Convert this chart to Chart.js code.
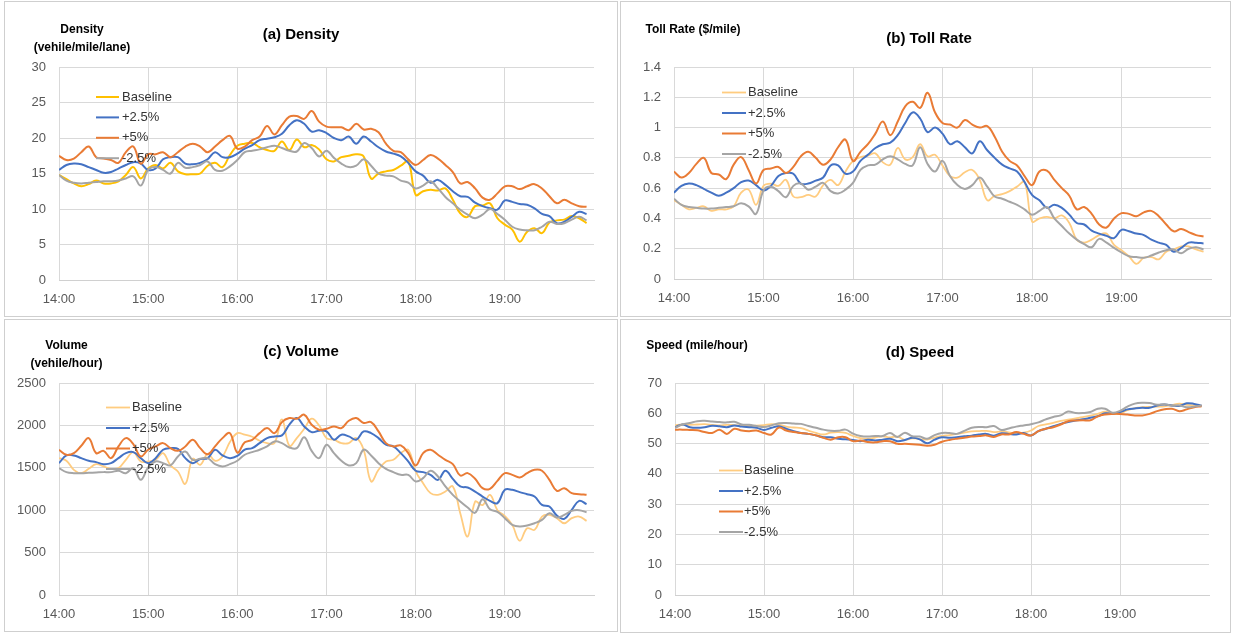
<!DOCTYPE html>
<html>
<head>
<meta charset="utf-8">
<script src="https://cdn.jsdelivr.net/npm/chart.js@4"></script>
<style>
  body { margin: 0; background: #fff; width: 1233px; height: 634px; position: relative; overflow: hidden; }
  .panel { position: absolute; border: 1px solid #cfcfcf; background: #fff; }
  canvas { display: block; }
</style>
</head>
<body>
<div class="panel" style="left:4px;top:1px;"><canvas id="chartA" width="612" height="314"></canvas></div>
<div class="panel" style="left:620px;top:1px;"><canvas id="chartB" width="609" height="314"></canvas></div>
<div class="panel" style="left:4px;top:319px;"><canvas id="chartC" width="612" height="311"></canvas></div>
<div class="panel" style="left:620px;top:319px;"><canvas id="chartD" width="609" height="312"></canvas></div>
<script>
// time of day, 5 minute steps
const times = [
  "14:00","14:05","14:10","14:15","14:20","14:25","14:30","14:35","14:40","14:45","14:50","14:55",
  "15:00","15:05","15:10","15:15","15:20","15:25","15:30","15:35","15:40","15:45","15:50","15:55",
  "16:00","16:05","16:10","16:15","16:20","16:25","16:30","16:35","16:40","16:45","16:50","16:55",
  "17:00","17:05","17:10","17:15","17:20","17:25","17:30","17:35","17:40","17:45","17:50","17:55",
  "18:00","18:05","18:10","18:15","18:20","18:25","18:30","18:35","18:40","18:45","18:50","18:55",
  "19:00","19:05","19:10","19:15","19:20","19:25","19:30","19:35","19:40","19:45","19:50","19:55"
];
const hourTicks = ["14:00", "15:00", "16:00", "17:00", "18:00", "19:00"];
const seriesNames = ["Baseline", "+2.5%", "+5%", "-2.5%"];

// (a) Density
const densBase = [
  14.8, 14.2, 13.6, 13.2, 13.5, 14.0, 13.6, 13.6, 13.9, 14.8, 15.9, 14.3,
  15.7, 16.2, 15.7, 16.5, 15.3, 14.9, 14.9, 15.0, 16.1, 16.5, 15.9, 17.6,
  18.9, 19.2, 19.3, 18.7, 18.3, 18.2, 19.5, 18.3, 19.8, 18.7, 19.0, 18.4,
  17.0, 16.7, 17.3, 17.5, 17.7, 17.4, 14.3, 15.0, 15.3, 15.5, 16.1, 16.7,
  12.0, 12.5, 12.7, 12.6, 12.9, 11.3, 9.4, 8.9, 10.4, 10.5, 10.8, 8.7,
  7.8, 7.1, 5.4, 6.8, 7.3, 6.6, 8.1, 8.4, 8.5, 9.0, 8.7, 8.0
];
const densP25 = [
  15.5, 16.2, 16.4, 16.3, 15.9, 15.5, 15.1, 15.2, 15.7, 16.2, 16.6, 16.4,
  15.5, 15.7, 17.0, 17.3, 17.3, 16.4, 16.3, 16.5, 17.0, 18.0, 17.3, 17.3,
  17.8, 18.5, 19.0, 19.7, 19.9, 20.1, 20.6, 21.8, 22.5, 22.0, 20.9, 21.1,
  20.7, 20.0, 19.7, 20.2, 19.2, 20.2, 19.5, 18.7, 18.1, 17.8, 17.4, 16.5,
  15.3, 14.7, 13.7, 14.1, 13.4, 12.5, 11.8, 11.7, 10.9, 10.4, 10.1, 9.9,
  11.2, 11.0, 10.7, 10.6, 10.1, 9.3, 9.0, 8.0, 8.2, 8.9, 9.6, 9.3
];
const densP5 = [
  17.5, 16.9, 17.1, 18.0, 18.8, 17.3, 17.1, 16.9, 16.5, 18.0, 18.8, 16.4,
  17.7, 17.7, 18.0, 17.3, 18.0, 18.8, 19.2, 18.8, 18.0, 18.8, 19.7, 20.3,
  18.5, 18.8, 19.7, 20.2, 21.7, 20.5, 21.8, 23.0, 23.1, 22.7, 23.8, 22.3,
  21.6, 21.5, 21.5, 21.1, 22.0, 21.2, 21.3, 20.8, 19.2, 18.2, 18.0, 17.0,
  16.2, 16.9, 17.6, 17.1, 16.2, 15.2, 13.6, 13.8, 12.9, 11.6, 11.3, 12.2,
  13.2, 13.2, 12.8, 13.2, 13.5, 12.9, 11.8, 10.8, 11.3, 10.8, 10.4, 10.3
];
const densM25 = [
  14.8, 14.0, 13.7, 13.6, 13.7, 13.8, 13.9, 13.9, 14.0, 14.3, 14.6, 13.3,
  15.5, 15.9, 15.5, 15.0, 16.5, 15.8, 15.9, 16.2, 16.7, 15.5, 15.4, 16.0,
  16.9, 18.0, 18.2, 18.4, 18.7, 18.9, 18.6, 18.2, 18.1, 19.3, 18.6, 17.4,
  18.2, 17.2, 16.4, 15.9, 16.1, 17.0, 16.1, 15.0, 14.7, 14.6, 14.0, 13.7,
  12.9, 13.3, 13.9, 12.9, 11.7, 10.8, 9.9, 9.2, 8.7, 9.2, 10.0, 9.3,
  8.5, 7.5, 7.1, 7.0, 7.0, 7.5, 8.2, 7.9, 8.0, 8.5, 8.9, 8.4
];

// (b) Toll Rate
const tollBase = [
  0.52, 0.49, 0.46, 0.47, 0.48, 0.45, 0.46, 0.46, 0.48, 0.57, 0.59, 0.49,
  0.615, 0.63, 0.615, 0.655, 0.545, 0.54, 0.555, 0.545, 0.62, 0.655, 0.62, 0.71,
  0.78, 0.805, 0.815, 0.83, 0.77, 0.755, 0.865, 0.79, 0.805, 0.89, 0.81, 0.82,
  0.75, 0.68, 0.67, 0.705, 0.72, 0.655, 0.52, 0.55, 0.56, 0.58, 0.61, 0.64,
  0.38, 0.40, 0.41, 0.40, 0.42, 0.37, 0.26, 0.24, 0.26, 0.29, 0.30, 0.225,
  0.19, 0.15, 0.10, 0.14, 0.145, 0.13, 0.18, 0.195, 0.215, 0.215, 0.195, 0.18
];
const tollP25 = [
  0.57, 0.615, 0.63, 0.62, 0.595, 0.57, 0.55, 0.57, 0.60, 0.64, 0.65, 0.62,
  0.585, 0.615, 0.68, 0.70, 0.695, 0.63, 0.63, 0.65, 0.67, 0.75, 0.75, 0.695,
  0.71, 0.78, 0.82, 0.865, 0.89, 0.90, 0.95, 1.03, 1.10, 1.06, 0.97, 1.00,
  0.96, 0.89, 0.91, 0.87, 0.83, 0.91, 0.85, 0.80, 0.755, 0.73, 0.71, 0.64,
  0.555, 0.52, 0.47, 0.49, 0.47, 0.425, 0.37, 0.36, 0.32, 0.30, 0.285, 0.27,
  0.325, 0.315, 0.30, 0.29, 0.26, 0.24, 0.225, 0.18, 0.205, 0.24, 0.24, 0.235
];
const tollP5 = [
  0.71, 0.67, 0.70, 0.76, 0.80, 0.70, 0.69, 0.66, 0.755, 0.805, 0.72, 0.63,
  0.72, 0.73, 0.74, 0.70, 0.74, 0.81, 0.84, 0.80, 0.755, 0.79, 0.87, 0.92,
  0.78, 0.84, 0.89, 0.96, 1.04, 0.95, 1.04, 1.14, 1.17, 1.13, 1.23, 1.10,
  1.03, 1.02, 1.00, 1.05, 1.02, 1.00, 1.01, 0.94, 0.84, 0.78, 0.75, 0.68,
  0.62, 0.71, 0.715, 0.655, 0.60, 0.55, 0.46, 0.475, 0.43, 0.36, 0.34, 0.40,
  0.435, 0.43, 0.415, 0.44, 0.45, 0.415, 0.36, 0.315, 0.33, 0.31, 0.29, 0.28
];
const tollM25 = [
  0.53, 0.49, 0.475, 0.47, 0.465, 0.465, 0.47, 0.475, 0.48, 0.50, 0.48, 0.43,
  0.585, 0.61, 0.58, 0.54, 0.615, 0.63, 0.59, 0.61, 0.635, 0.58, 0.565, 0.59,
  0.635, 0.72, 0.75, 0.755, 0.79, 0.81, 0.79, 0.76, 0.75, 0.87, 0.76, 0.71,
  0.78, 0.68, 0.62, 0.595, 0.62, 0.67, 0.61, 0.545, 0.53, 0.51, 0.49, 0.46,
  0.425, 0.45, 0.475, 0.40, 0.35, 0.30, 0.26, 0.23, 0.21, 0.265, 0.24, 0.205,
  0.175, 0.15, 0.145, 0.14, 0.155, 0.175, 0.19, 0.195, 0.17, 0.20, 0.21, 0.195
];

// (c) Volume
const volBase = [
  1614, 1583, 1476, 1437, 1488, 1543, 1516, 1488, 1496, 1594, 1685, 1575,
  1575, 1594, 1673, 1528, 1457, 1310, 1606, 1535, 1661, 1583, 1634, 1803,
  1909, 1890, 1866, 1819, 1791, 1791, 2070, 1760, 1850, 1960, 2080, 2000,
  1850, 1831, 1791, 1791, 1850, 1713, 1340, 1476, 1575, 1594, 1673, 1713,
  1457, 1319, 1201, 1181, 1220, 1280, 965, 690, 1100, 1060, 1180, 1000,
  930, 827, 640, 787, 768, 925, 945, 906, 846, 906, 925, 874
];
const volP25 = [
  1555, 1646, 1646, 1614, 1583, 1567, 1543, 1555, 1614, 1673, 1685, 1614,
  1555, 1614, 1713, 1732, 1724, 1614, 1555, 1602, 1614, 1713, 1646, 1614,
  1640, 1713, 1732, 1791, 1850, 1870, 1882, 2008, 2087, 1988, 1921, 1937,
  1929, 1831, 1890, 1870, 1831, 1929, 1909, 1850, 1772, 1752, 1673, 1575,
  1465, 1449, 1417, 1358, 1465, 1370, 1280, 1268, 1220, 1161, 1110, 1083,
  1240, 1240, 1213, 1189, 1161, 1063, 1043, 937, 898, 1004, 1110, 1071
];
const volP5 = [
  1713, 1654, 1673, 1760, 1850, 1673, 1700, 1614, 1752, 1850, 1780, 1634,
  1713, 1752, 1791, 1732, 1700, 1752, 1830, 1732, 1661, 1752, 1850, 1909,
  1680, 1800, 1830, 1909, 1968, 1909, 2039, 2087, 2079, 2126, 2008, 1949,
  1960, 1988, 1968, 2055, 2087, 2028, 2039, 1929, 1791, 1752, 1764, 1673,
  1528, 1673, 1713, 1654, 1594, 1543, 1409, 1437, 1370, 1260, 1252, 1346,
  1437, 1417, 1386, 1437, 1476, 1465, 1358, 1228, 1260, 1201, 1189, 1181
];
const volM25 = [
  1496, 1449, 1437, 1437, 1441, 1445, 1449, 1449, 1465, 1437, 1496, 1358,
  1504, 1575, 1555, 1528, 1634, 1693, 1594, 1606, 1614, 1543, 1516, 1543,
  1583, 1654, 1685, 1713, 1752, 1811, 1791, 1740, 1732, 1860, 1700, 1614,
  1772, 1673, 1583, 1528, 1555, 1713, 1646, 1555, 1488, 1449, 1417, 1417,
  1339, 1378, 1465, 1398, 1280, 1181, 1102, 1031, 970, 1130, 1010, 980,
  906, 827, 807, 819, 846, 886, 964, 913, 945, 992, 1000, 976
];

// (d) Speed
const spdBase = [
  56.0, 56.3, 56.2, 56.3, 56.4, 56.2, 56.0, 56.2, 56.1, 55.9, 55.8, 55.9,
  56.1, 56.4, 56.2, 55.6, 55.3, 55.1, 54.3, 53.5, 53.0, 53.6, 53.8, 53.5,
  52.5, 51.8, 51.6, 52.0, 52.4, 52.0, 52.3, 51.2, 51.7, 51.5, 51.3, 52.0,
  52.5, 52.8, 53.2, 53.6, 54.0, 54.1, 54.2, 53.8, 54.0, 53.7, 53.4, 53.6,
  54.3, 55.8, 56.3, 56.8, 57.5, 57.9, 58.3, 58.7, 59.2, 59.8, 60.5, 59.8,
  59.9, 61.0, 61.7, 62.0, 62.1, 62.2, 62.3, 62.7, 63.2, 62.8, 62.6, 62.5
];
const spdP25 = [
  55.4, 56.3, 55.4, 55.2, 55.4, 55.9, 55.7, 55.4, 56.0, 55.6, 55.4, 55.2,
  54.5, 55.2, 55.7, 54.9, 54.1, 53.5, 53.2, 52.7, 52.1, 52.1, 51.6, 51.4,
  51.2, 50.8, 51.3, 51.0, 51.3, 51.6, 50.8, 51.2, 51.9, 51.4, 50.1, 51.3,
  52.1, 51.9, 52.1, 52.4, 52.6, 53.0, 53.2, 52.6, 53.4, 53.2, 53.0, 53.5,
  52.7, 54.1, 54.9, 55.7, 56.5, 57.1, 57.6, 58.0, 58.5, 59.0, 60.0, 59.9,
  60.4, 61.3, 61.6, 61.8, 61.8, 62.6, 62.9, 62.6, 62.4, 63.3, 63.1, 62.5
];
const spdP5 = [
  54.6, 54.6, 54.5, 54.4, 53.8, 53.5, 54.6, 53.2, 54.9, 54.3, 54.1, 54.3,
  53.5, 53.0, 55.3, 54.3, 53.8, 53.5, 53.2, 52.7, 51.9, 51.3, 52.1, 52.1,
  50.8, 51.0, 50.5, 50.4, 50.8, 50.8, 49.9, 49.9, 49.8, 49.6, 49.3, 49.6,
  50.6, 51.2, 51.6, 51.9, 52.3, 52.5, 52.7, 52.2, 53.0, 53.0, 53.8, 53.2,
  52.7, 54.1, 54.9, 55.4, 56.3, 57.4, 57.6, 57.7, 57.7, 59.0, 59.6, 59.8,
  59.8, 59.6, 59.3, 59.3, 59.8, 60.7, 61.3, 61.5, 60.7, 61.3, 62.0, 62.3
];
const spdM25 = [
  55.2, 56.3, 56.8, 57.4, 57.5, 57.3, 57.1, 57.0, 57.2, 56.3, 56.2, 55.8,
  55.5, 56.0, 56.7, 56.8, 56.6, 56.5, 55.8, 55.2, 54.6, 54.2, 54.2, 54.6,
  53.3, 52.5, 52.3, 52.5, 52.5, 53.5, 52.2, 53.6, 52.4, 52.3, 51.6, 52.8,
  53.5, 53.5, 53.2, 54.2, 55.2, 55.5, 55.4, 55.8, 54.5, 55.0, 55.6, 56.0,
  56.4, 57.0, 58.0, 58.8, 59.3, 60.6, 60.1, 60.1, 60.4, 61.5, 61.5, 60.2,
  60.8, 62.2, 63.2, 63.5, 63.4, 62.8, 63.0, 62.5, 62.6, 62.0, 62.2, 62.6
];

const FONT = '"Liberation Sans", Arial, sans-serif';
const BLUE = "#4472C4", ORANGE = "#E97B35", GRAY = "#A5A5A5";

function toMin(t) {
  return (parseInt(t.slice(0, 2)) - 14) * 60 + parseInt(t.slice(3));
}

// titles, unit labels and the in-plot legend, the way Excel places them
const panelText = {
  id: "panelText",
  afterDraw(chart, args, o) {
    const ctx = chart.ctx;
    ctx.save();
    ctx.textBaseline = "middle";
    ctx.textAlign = "center";
    ctx.fillStyle = "#000";
    ctx.font = "bold 15px " + FONT;
    ctx.fillText(o.title, o.titleX, o.titleY);
    ctx.font = "bold 12px " + FONT;
    o.unit.forEach((t, i) => ctx.fillText(t, o.unitX, o.unitY + i * 17.5));

    ctx.font = "13px " + FONT;
    ctx.textAlign = "left";
    ctx.fillStyle = "#333";
    chart.data.datasets.forEach((ds, i) => {
      const y = o.legY + i * o.legDy;
      ctx.strokeStyle = ds.borderColor;
      ctx.lineWidth = ds.borderWidth;
      ctx.beginPath();
      ctx.moveTo(o.legX0, y);
      ctx.lineTo(o.legX1, y);
      ctx.stroke();
      ctx.fillText(ds.label, o.legTx, y);
    });
    ctx.restore();
  }
};

function makeChart(id, series, baseColor, yMax, yStep, area, text) {
  const colors = [baseColor, BLUE, ORANGE, GRAY];
  const datasets = series.map((vals, i) => ({
    label: seriesNames[i],
    data: vals.map((v, j) => ({ x: toMin(times[j]), y: v })),
    borderColor: colors[i],
    borderWidth: i === 0 && baseColor !== "#FFC000" ? 1.8 : 2,
    pointRadius: 0,
    tension: 0.4,
    fill: false,
    order: 4 - i
  }));

  new Chart(document.getElementById(id), {
    type: "line",
    data: { datasets: datasets },
    plugins: [panelText],
    options: {
      responsive: false,
      animation: false,
      layout: { padding: { left: 0, top: area.top, right: area.right, bottom: 0 } },
      plugins: {
        legend: { display: false },
        tooltip: { enabled: false },
        panelText: text
      },
      scales: {
        x: {
          type: "linear",
          min: 0,
          max: 360,
          afterBuildTicks: (s) => {
            s.ticks = hourTicks.map((h) => ({ value: toMin(h) }));
          },
          afterFit: (s) => { s.height = area.xh; },
          grid: { color: "#d9d9d9", drawTicks: false },
          border: { color: "#d0d0d0" },
          ticks: {
            autoSkip: false,
            maxRotation: 0,
            padding: 12,
            color: "#595959",
            font: { family: FONT, size: 13 },
            callback: (v, i) => hourTicks[i]
          }
        },
        y: {
          min: 0,
          max: yMax,
          afterFit: (s) => { s.width = area.left; },
          grid: { color: "#d9d9d9", drawTicks: false },
          border: { display: false },
          ticks: {
            stepSize: yStep,
            padding: 13,
            color: "#595959",
            font: { family: FONT, size: 13 },
            callback: (v) => String(Number(v.toFixed(2)))
          }
        }
      }
    }
  });
}

makeChart("chartA", [densBase, densP25, densP5, densM25], "#FFC000", 30, 5,
  { left: 54, top: 65, right: 23, xh: 36 },
  { title: "(a) Density", titleX: 296, titleY: 33,
    unit: ["Density", "(vehile/mile/lane)"], unitX: 77, unitY: 28,
    legX0: 91, legX1: 114, legTx: 117, legY: 95, legDy: 20.4 });

makeChart("chartB", [tollBase, tollP25, tollP5, tollM25], "#FFCC80", 1.4, 0.2,
  { left: 53, top: 65, right: 19, xh: 37 },
  { title: "(b) Toll Rate", titleX: 308, titleY: 37,
    unit: ["Toll Rate ($/mile)"], unitX: 72, unitY: 28,
    legX0: 101, legX1: 125, legTx: 127, legY: 90.5, legDy: 20.5 });

makeChart("chartC", [volBase, volP25, volP5, volM25], "#FFCC80", 2500, 500,
  { left: 54, top: 63, right: 23, xh: 36 },
  { title: "(c) Volume", titleX: 296, titleY: 32,
    unit: ["Volume", "(vehile/hour)"], unitX: 61.5, unitY: 25.7,
    legX0: 101, legX1: 125, legTx: 127, legY: 87.5, legDy: 20.5 });

makeChart("chartD", [spdBase, spdP25, spdP5, spdM25], "#FFCC80", 70, 10,
  { left: 54, top: 63, right: 21, xh: 37 },
  { title: "(d) Speed", titleX: 299, titleY: 33,
    unit: ["Speed (mile/hour)"], unitX: 76, unitY: 25.7,
    legX0: 98, legX1: 122, legTx: 123, legY: 150.5, legDy: 20.5 });
</script>
</body>
</html>
